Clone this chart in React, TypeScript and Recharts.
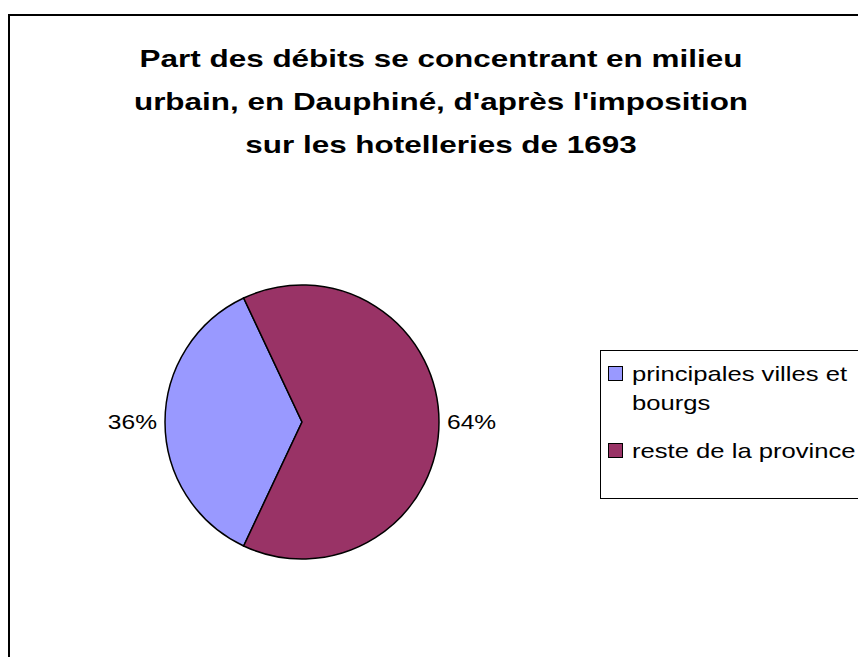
import { Legend, Pie, PieChart, Cell } from "recharts";

const CATEGORIES = ["principales villes et bourgs", "reste de la province"];
const VALUES = [36, 64];
const COLORS = ["#9999FF", "#993366"];
const TITLE_LINES = [
  "Part des débits se concentrant en milieu",
  "urbain, en Dauphiné, d'après l'imposition",
  "sur les hotelleries de 1693",
];

const FONT = "'Liberation Sans', Arial, sans-serif";
const RAD = Math.PI / 180;

const data = CATEGORIES.map((name, i) => ({ name, value: VALUES[i] }));

// outside label, like the old Excel "percentage" data label
// (the original rendering is stretched a bit horizontally, hence the scale)
function renderLabel(props: any) {
  const { cx, cy, midAngle, outerRadius, percent } = props;
  const cos = Math.cos(-midAngle * RAD);
  const x = cx + (outerRadius + 8) * cos;
  const y = cy + (outerRadius + 8) * Math.sin(-midAngle * RAD);
  return (
    <text
      x={0}
      y={0}
      transform={`translate(${x},${y}) scale(1.17,1)`}
      textAnchor={cos >= 0 ? "start" : "end"}
      dominantBaseline="central"
      fontFamily={FONT}
      fontSize={21}
      fill="#000"
    >
      {`${Math.round(percent * 100)}%`}
    </text>
  );
}

function LegendBox({ payload }: { payload?: any[] }) {
  return (
    <div
      style={{
        width: 270,
        height: 149,
        boxSizing: "border-box",
        border: "1px solid #000",
        background: "#fff",
        padding: "8px 0 0 7px",
        fontFamily: FONT,
        fontSize: 21,
        lineHeight: "29px",
      }}
    >
      {(payload || []).map((p) => (
        <div key={p.value} style={{ display: "flex", alignItems: "flex-start", marginBottom: 19 }}>
          <span
            style={{
              width: 13,
              height: 13,
              marginTop: 7,
              marginRight: 9,
              flex: "none",
              background: p.color,
              border: "1px solid #000",
            }}
          />
          <span
            style={{
              width: 200,
              color: "#000",
              transform: "scaleX(1.22)",
              transformOrigin: "0 0",
            }}
          >
            {p.value}
          </span>
        </div>
      ))}
    </div>
  );
}

export default function App() {
  return (
    <div style={{ position: "fixed", left: 0, top: 0, width: 858, height: 657, overflow: "hidden", background: "#fff" }}>
      <div
        style={{
          position: "absolute",
          left: 8,
          top: 14,
          width: 900,
          height: 700,
          border: "2px solid #000",
        }}
      />
      <div
        style={{
          position: "absolute",
          left: 91,
          top: 37,
          width: 700,
          textAlign: "center",
          fontFamily: FONT,
          fontWeight: "bold",
          fontSize: 24,
          lineHeight: "43px",
          color: "#000",
          transform: "scaleX(1.31)",
          transformOrigin: "50% 0",
        }}
      >
        {TITLE_LINES.map((l) => (
          <div key={l}>{l}</div>
        ))}
      </div>
      <div style={{ position: "absolute", left: 0, top: 0 }}>
        <PieChart width={858} height={657} margin={{ top: 0, right: 0, bottom: 0, left: 0 }}>
          <Pie
            data={data}
            dataKey="value"
            nameKey="name"
            cx={302}
            cy={422}
            outerRadius={137}
            startAngle={115.2}
            endAngle={475.2}
            stroke="#000"
            strokeWidth={1.5}
            label={renderLabel}
            labelLine={false}
            isAnimationActive={false}
          >
            {data.map((d, i) => (
              <Cell key={d.name} fill={COLORS[i]} />
            ))}
          </Pie>
          <Legend
            layout="vertical"
            content={(p: any) => <LegendBox payload={p.payload} />}
            wrapperStyle={{ position: "absolute", left: 600, top: 350, width: 270 }}
          />
        </PieChart>
      </div>
    </div>
  );
}
